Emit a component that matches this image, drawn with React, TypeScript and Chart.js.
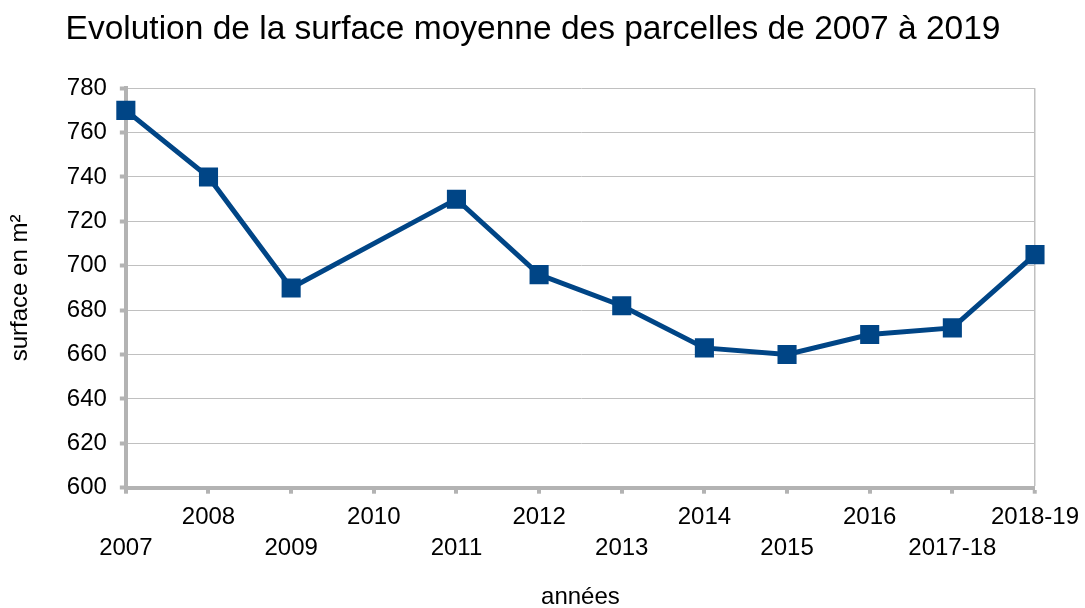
import React, { useEffect, useRef } from "react";
import { Chart, registerables } from "chart.js";

Chart.register(...registerables);

const categories = ["2007", "2008", "2009", "2010", "2011", "2012", "2013", "2014", "2015", "2016", "2017-18", "2018-19"];
const surfaceValues: (number | null)[] = [770, 740, 690, null, 730, 696, 682, 663, 660, 669, 672, 705];
const titleText = "Evolution de la surface moyenne des parcelles de 2007 à 2019";
const yTitle = "surface en m²";
const xTitle = "années";

export default function App() {
  const ref = useRef<HTMLCanvasElement | null>(null);
  useEffect(() => {
    if (!ref.current) return;
    const font = "'Liberation Sans', Arial, sans-serif";
    const labels = categories.map((c, i) => (i % 2 === 0 ? ["", c] : [c, ""]));
    const shiftTitle = {
      id: "shiftTitle",
      afterLayout(chart: any) {
        const t = chart.titleBlock;
        if (t) t.right = t.left + 2 * (533 - t.left);
      },
    };
    const chart = new Chart(ref.current, {
      type: "line",
      plugins: [shiftTitle],
      data: {
        labels,
        datasets: [
          {
            data: surfaceValues,
            borderColor: "#004586",
            backgroundColor: "#004586",
            borderWidth: 5,
            pointStyle: "rect",
            pointRadius: 13.5,
            pointHoverRadius: 13.5,
            pointBorderWidth: 0,
            pointHoverBorderWidth: 0,
            spanGaps: true,
            tension: 0,
          },
        ],
      },
      options: {
        animation: false,
        responsive: false,
        devicePixelRatio: 1,
        layout: { padding: { left: 0, right: 0, top: 0, bottom: 0 } },
        plugins: {
          legend: { display: false },
          tooltip: { enabled: false },
          title: {
            display: true,
            text: titleText,
            color: "#000",
            font: { family: font, size: 33.5, weight: "normal" },
            padding: { top: 10, bottom: 38 },
          },
        },
        scales: {
          x: {
            offset: false,
            afterFit(scale: any) {
              scale.paddingRight = 50;
            },
            ticks: {
              autoSkip: false,
              maxRotation: 0,
              minRotation: 0,
              color: "#000",
              padding: 8,
              font: { family: font, size: 24, lineHeight: 1.3 },
            },
            grid: {
              color: "#c0c0c0",
              lineWidth: (ctx: any) => (ctx.index === categories.length - 1 ? 1.5 : 0),
              tickWidth: 4,
              tickColor: "#b3b3b3",
              tickLength: 6,
              drawOnChartArea: true,
            },
            border: { color: "#b3b3b3", width: 4 },
            title: {
              display: true,
              text: xTitle,
              color: "#000",
              font: { family: font, size: 24, lineHeight: 1.1 },
              padding: { top: 12.5, bottom: -3 },
            },
          },
          y: {
            min: 600,
            max: 780,
            ticks: {
              stepSize: 20,
              color: "#000",
              padding: 13,
              font: { family: font, size: 24 },
            },
            grid: {
              color: "#c0c0c0",
              lineWidth: 1,
              tickWidth: 4,
              tickColor: "#b3b3b3",
              tickLength: 6,
            },
            border: { color: "#b3b3b3", width: 4 },
            title: {
              display: true,
              text: yTitle,
              color: "#000",
              font: { family: font, size: 24 },
              padding: { top: 6, bottom: 19 },
            },
          },
        },
      },
    });
    return () => chart.destroy();
  }, []);
  return (
    <div style={{ position: "fixed", left: 0, top: 0, width: 1085, height: 608, background: "#fff" }}>
      <canvas ref={ref} width={1085} height={608} />
    </div>
  );
}
